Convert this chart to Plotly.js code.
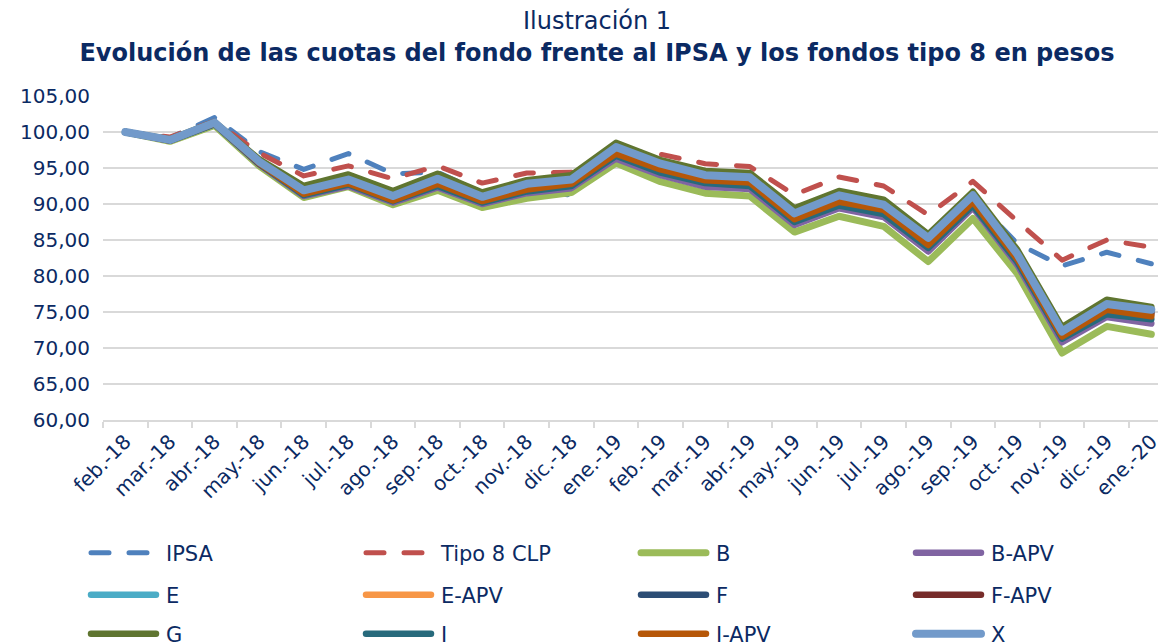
<!DOCTYPE html>
<html><head><meta charset="utf-8">
<script src="https://cdn.plot.ly/plotly-3.0.1.min.js"></script>
<style>html,body{margin:0;padding:0;background:#fff;}#chart{width:1158px;height:644px;}</style>
</head><body><div id="chart"></div>
<script>
const categories = ['feb.-18','mar.-18','abr.-18','may.-18','jun.-18','jul.-18','ago.-18','sep.-18','oct.-18','nov.-18','dic.-18','ene.-19','feb.-19','mar.-19','abr.-19','may.-19','jun.-19','jul.-19','ago.-19','sep.-19','oct.-19','nov.-19','dic.-19','ene.-20'];
const ipsa   = [100, 99.2, 102.0, 97.3, 94.8, 97.0, 94.2, 94.4, 91.6, 92.2, 91.2, 97.6, 95.3, 93.6, 93.4, 88.6, 91.0, 89.9, 85.2, 90.9, 84.5, 81.4, 83.3, 81.7];
const tipo8  = [100, 99.3, 101.5, 97.1, 93.9, 95.3, 93.5, 95.3, 92.9, 94.3, 94.4, 97.6, 96.9, 95.6, 95.2, 91.3, 93.75, 92.5, 88.5, 93.15, 87.6, 82.2, 85.0, 84.0];
const serB   = [100, 98.7, 100.9, 95.3, 90.9, 92.4, 89.9, 91.9, 89.5, 90.8, 91.6, 95.7, 93.1, 91.5, 91.1, 86.1, 88.3, 86.9, 82.0, 88.0, 80.3, 69.3, 73.0, 71.9];
const serBAPV= [100, 98.8, 101.1, 95.5, 91.1, 92.5, 90.2, 92.3, 90.0, 91.5, 92.2, 96.3, 94.0, 92.4, 92.1, 87.1, 89.4, 88.2, 83.4, 89.5, 81.5, 70.8, 74.3, 73.4];
const serE   = [100, 98.9, 101.3, 95.8, 91.8, 93.3, 91.0, 93.3, 90.9, 92.6, 93.2, 97.7, 95.4, 93.8, 93.5, 88.5, 91.0, 89.7, 85.1, 91.0, 82.8, 72.1, 75.9, 75.1];
const serEAPV= [100, 98.8, 101.2, 95.7, 91.6, 93.1, 90.8, 93.1, 90.7, 92.4, 93.0, 97.4, 95.2, 93.6, 93.3, 88.3, 90.8, 89.5, 84.8, 90.8, 82.6, 71.9, 75.7, 74.9];
const serF   = [100, 98.9, 101.3, 95.8, 91.7, 93.2, 90.9, 93.2, 90.8, 92.5, 93.1, 97.6, 95.3, 93.7, 93.4, 88.4, 90.9, 89.6, 85.0, 90.9, 82.7, 72.0, 75.8, 75.0];
const serFAPV= [100, 98.8, 101.2, 95.6, 91.5, 93.0, 90.7, 93.0, 90.6, 92.2, 92.9, 97.2, 95.0, 93.5, 93.2, 88.1, 90.6, 89.4, 84.6, 90.6, 82.5, 71.8, 75.5, 74.7];
const serG   = [100, 99.0, 101.4, 96.2, 92.5, 94.1, 91.8, 94.2, 91.6, 93.3, 94.0, 98.5, 96.1, 94.6, 94.3, 89.4, 91.8, 90.6, 85.8, 91.7, 83.6, 72.9, 76.7, 75.7];
const serI   = [100, 98.8, 101.1, 95.6, 91.25, 92.7, 90.4, 92.5, 90.2, 91.75, 92.5, 96.7, 94.35, 92.9, 92.5, 87.5, 89.8, 88.6, 83.9, 89.8, 81.9, 71.3, 74.7, 74.0];
const serIAPV= [100, 98.9, 101.2, 95.7, 91.4, 92.9, 90.5, 92.8, 90.4, 92.0, 92.8, 97.0, 94.8, 93.3, 93.0, 87.9, 90.3, 89.2, 84.3, 90.3, 82.3, 71.6, 75.3, 74.4];
const serX   = [100, 98.9, 101.3, 95.9, 91.9, 93.4, 91.1, 93.5, 91.0, 92.8, 93.4, 97.9, 95.6, 94.0, 93.7, 88.7, 91.2, 89.9, 85.3, 91.2, 83.0, 72.3, 76.1, 75.3];
const yTickVals = [60, 65, 70, 75, 80, 85, 90, 95, 100, 105];

const navy = '#0B2A63';
function tr(name, y, color, width, dash, legend, lw) {
  const t = {type:'scatter', mode:'lines', name:name, x:categories, y:y,
    line:{color:color, width:width, dash:dash || 'solid'}, legend:legend, hoverinfo:'skip'};
  if (lw) t.legendwidth = lw;
  return t;
}
const data = [
  tr('IPSA', ipsa, '#4F81BD', 5, '18px,20px', 'legend'),
  tr('Tipo 8 CLP', tipo8, '#C0504D', 5, '18px,20px', 'legend'),
  tr('B', serB, '#9BBB59', 7, null, 'legend'),
  tr('B-APV', serBAPV, '#8064A2', 6.5, null, 'legend', 60),
  tr('E', serE, '#4BACC6', 6.5, null, 'legend2'),
  tr('E-APV', serEAPV, '#F79646', 6.5, null, 'legend2'),
  tr('F', serF, '#2C4D75', 6.5, null, 'legend2'),
  tr('F-APV', serFAPV, '#772C2A', 6.5, null, 'legend2', 60),
  tr('G', serG, '#5F7530', 6.5, null, 'legend3'),
  tr('I', serI, '#276A7C', 6.5, null, 'legend3'),
  tr('I-APV', serIAPV, '#B65708', 6.5, null, 'legend3'),
  tr('X', serX, '#729ACA', 8, null, 'legend3', 60)
];

const plotL = 103, plotT = 95.5, plotB = 419.7, W = 1158, H = 644;
const pw = W - plotL, ph = plotB - plotT;
function py(pix){ return (plotB - pix) / ph; }
function px(pix){ return (pix - plotL) / pw; }
function leg(yc){ return {orientation:'h', x:px(86), xanchor:'left', y:py(yc), yanchor:'middle',
  entrywidth:190, entrywidthmode:'pixels', itemwidth:70, bgcolor:'rgba(0,0,0,0)', borderwidth:0,
  font:{family:'DejaVu Sans', size:21, color:navy}, itemclick:false, itemdoubleclick:false}; }

const layout = {
  width:W, height:H,
  margin:{l:plotL, r:0, t:plotT, b:H-plotB, pad:0, autoexpand:false},
  paper_bgcolor:'#ffffff', plot_bgcolor:'#ffffff',
  separators:',.',
  font:{family:'DejaVu Sans', color:navy, size:20},
  title:{text:'<b>Evolución de las cuotas del fondo frente al IPSA y los fondos tipo 8 en pesos</b>',
    xref:'container', x:597/W, xanchor:'center', yref:'container', y:1-52.5/H, yanchor:'middle',
    font:{family:'DejaVu Sans', size:24, color:navy}},
  annotations:[{text:'Ilustración 1', xref:'paper', yref:'paper', x:px(597), y:py(20.5), xanchor:'center', yanchor:'middle',
    showarrow:false, font:{family:'DejaVu Sans', size:24, color:navy}}],
  xaxis:{type:'category', range:[-0.5, 23.15], tickson:'boundaries', ticks:'outside', ticklen:6, tickwidth:2,
    tickcolor:'#D9D9D9', showline:true, linecolor:'#D9D9D9', linewidth:2, showgrid:false, tickangle:-45,
    tickfont:{family:'DejaVu Sans', size:20, color:navy}, fixedrange:true, automargin:false},
  yaxis:{range:[60,105], tickvals:yTickVals, tickformat:'.2f', showgrid:true, gridcolor:'#D9D9D9', gridwidth:2,
    zeroline:false, showline:false, ticks:'', ticklabelstandoff:12,
    tickfont:{family:'DejaVu Sans', size:20, color:navy}, fixedrange:true, automargin:false},
  showlegend:true,
  legend:leg(553), legend2:leg(595), legend3:leg(634),
  hovermode:false
};

function polish(){
  document.querySelectorAll('.scatterlayer path.js-line').forEach(p=>{
    p.style.strokeLinecap='round'; p.style.strokeLinejoin='round';
  });
  document.querySelectorAll('.legendlines path').forEach(p=>{
    p.setAttribute('d','M5,0h65');
    p.style.strokeLinecap='round';
  });
}
Plotly.newPlot('chart', data, layout, {displayModeBar:false, staticPlot:true}).then(polish);
</script>
</body></html>
